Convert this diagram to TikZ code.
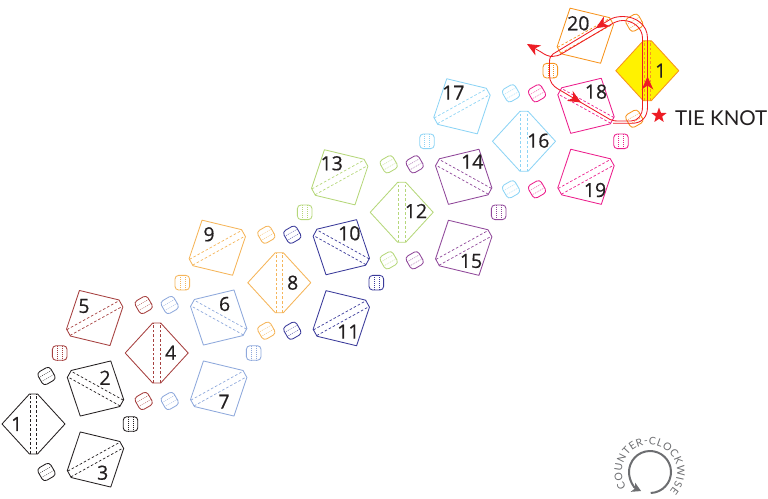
\documentclass[tikz,border=0pt]{standalone}
\usepackage{fontspec}
\setmainfont{Lato}
\newfontfamily\numfont[FakeBold=0.5]{Open Sans}
\usetikzlibrary{arrows.meta}
\usetikzlibrary{decorations.markings, decorations.text, shapes.geometric}

\definecolor{sheetblack}{HTML}{231F20}
\definecolor{sheetred}{HTML}{A6403F}
\definecolor{sheetblue}{HTML}{8FA9DC}
\definecolor{sheetorange}{HTML}{F5B55A}
\definecolor{sheetnavy}{HTML}{3A3A9A}
\definecolor{sheetgreen}{HTML}{B5D77A}
\definecolor{sheetpurple}{HTML}{90489A}
\definecolor{sheetsky}{HTML}{8DD4F5}
\definecolor{sheetpink}{HTML}{EC1E8C}
\definecolor{sheetamber}{HTML}{F7941E}
\definecolor{tieyellow}{HTML}{FFF200}
\definecolor{tiered}{HTML}{ED1C24}
\definecolor{wisegray}{HTML}{6D6E71}

\tikzset{
    tileedge/.style={line width=0.85pt, line join=round},
    tilefold/.style={line width=0.7pt, dash pattern=on 2.6pt off 2pt},
    claspedge/.style={line width=0.85pt, rounded corners=3.6pt},
    claspfold/.style={line width=0.4pt, dash pattern=on 1pt off 1pt},
    tilenum/.style={font=\numfont\fontsize{19.5}{19.5}\selectfont, text=sheetblack, inner sep=0pt},
    tieline/.style={draw=tiered, line width=0.85pt, line join=round},
    tiehead/.tip={Stealth[length=13pt, width=11.5pt, inset=4pt]},
}

% sheet: [fill], name, centre, rotation, colour, label position, label
\newcommand{\foldtile}[7][]{
    \begin{scope}[shift={#3}, rotate=#4]
        \draw[tileedge, draw=#5, #1] (-4,30) -- (4,30) -- (31.5,0) -- (4,-30) -- (-4,-30) -- (-31.5,0) -- cycle;
        \draw[tilefold, draw=#5] (-3.3,30) -- (-3.3,-30);
        \draw[tilefold, draw=#5] (3.3,30) -- (3.3,-30);
    \end{scope}
    \node[tilenum] (#2) at #6 {#7};
}

% one small square: centre, rotation, colour
\newcommand{\clasptile}[3]{
    \begin{scope}[shift={#1}, rotate=#2]
        \draw[claspedge, draw=#3] (-7.3,-7.3) rectangle (7.3,7.3);
        \draw[claspfold, draw=#3] (-2.4,-7.3) -- (-2.4,7.3);
        \draw[claspfold, draw=#3] (2.4,-7.3) -- (2.4,7.3);
    \end{scope}
}

% three small squares on one side of a diamond: centre, side, colour
\newcommand{\claspset}[3]{
    \begin{scope}[shift={#1}]
        \clasptile{(#2*13,-48)}{-60}{#3}
        \clasptile{(#2*13,48)}{-60}{#3}
        \clasptile{(#2*97,0)}{0}{#3}
    \end{scope}
}

\begin{document}
\begin{tikzpicture}[x=1pt, y=-1pt]
    \useasboundingbox (0,0) rectangle (768,498);

    \foldtile{numA}{(33.5,424)}{0}{sheetblack}{(16.7,424)}{1}
    \foldtile{numB}{(95.5,388.5)}{61}{sheetblack}{(105,377.7)}{2}
    \foldtile{numC}{(95.5,459.5)}{-61}{sheetblack}{(102.7,472.7)}{3}
    \claspset{(33.5,424)}{1}{sheetblack}

    \foldtile{numD}{(156.7,353)}{0}{sheetred}{(170.7,352.7)}{4}
    \foldtile{numE}{(94.7,318)}{-61}{sheetred}{(84,306)}{5}
    \claspset{(156.7,353)}{-1}{sheetred}

    \foldtile{numF}{(218.7,317.5)}{61}{sheetblue}{(224.6,304)}{6}
    \foldtile{numG}{(218.7,388.5)}{-61}{sheetblue}{(224,401.7)}{7}
    \claspset{(156.7,353)}{1}{sheetblue}

    \foldtile{numH}{(279.3,282.7)}{0}{sheetorange}{(292.7,282.7)}{8}
    \foldtile{numI}{(217.3,247.7)}{-61}{sheetorange}{(209,234.3)}{9}
    \claspset{(279.3,282.7)}{-1}{sheetorange}

    \foldtile{numJ}{(341.3,247.2)}{61}{sheetnavy}{(349.3,233.3)}{10}
    \foldtile{numK}{(341.3,318.2)}{-61}{sheetnavy}{(348.3,331.7)}{11}
    \claspset{(279.3,282.7)}{1}{sheetnavy}

    \foldtile{numL}{(401.7,212.3)}{0}{sheetgreen}{(416,211)}{12}
    \foldtile{numM}{(339.7,177.3)}{-61}{sheetgreen}{(331.7,163.3)}{13}
    \claspset{(401.7,212.3)}{-1}{sheetgreen}

    \foldtile{numN}{(463.7,176.8)}{61}{sheetpurple}{(472.3,161.7)}{14}
    \foldtile{numO}{(463.7,247.8)}{-61}{sheetpurple}{(471,261)}{15}
    \claspset{(401.7,212.3)}{1}{sheetpurple}

    \foldtile{numP}{(524,141.3)}{0}{sheetsky}{(538.3,140.7)}{16}
    \foldtile{numQ}{(462,106.3)}{-61}{sheetsky}{(453.3,92.7)}{17}
    \claspset{(524,141.3)}{-1}{sheetsky}

    \foldtile{numR}{(586,105.8)}{61}{sheetpink}{(596,91.7)}{18}
    \foldtile{numS}{(586,176.8)}{-61}{sheetpink}{(595,190)}{19}
    \claspset{(524,141.3)}{1}{sheetpink}

    \foldtile[fill=tieyellow]{numU}{(647.3,70.7)}{0}{sheetamber}{(660.7,70.7)}{1}
    \foldtile{numT}{(585.3,35.7)}{-61}{sheetamber}{(578.3,23.3)}{20}
    \claspset{(647.3,70.7)}{-1}{sheetamber}

    % the tie path
    \coordinate (tiestart) at (613,123.3);
    \coordinate (tieend) at (527,44);
    \draw[tieline, -{tiehead}, postaction={decorate},
        decoration={markings,
            mark=at position 75pt with {\arrow[tiered]{tiehead}},
            mark=at position 180pt with {\arrow[tiered]{tiehead}},
            mark=at position 296pt with {\arrow[tiered]{tiehead}}}]
        (tiestart) -- (631.7,123.3) .. controls (642,123.3) and (647.5,117) .. (647.5,107)
        -- (647.5,38) .. controls (647.5,25) and (636,16.5) .. (623,16.5)
        .. controls (617,16.5) and (613,17.7) .. (610,19.5)
        -- (553,54) .. controls (550.5,56) and (549.5,58) .. (549.5,62)
        -- (549.5,75) .. controls (549.5,82) and (553,86) .. (558,89)
        -- (610,119.5) .. controls (613,121) and (616,121) .. (620,121)
        -- (631,121) .. controls (638,121) and (642.5,115) .. (642.5,107)
        -- (642.5,38) .. controls (642.5,28) and (633,20.5) .. (623,20.5)
        .. controls (618,20.5) and (614,22.5) .. (610,25)
        -- (563,53) .. controls (556,57.5) and (549,58) .. (541,52)
        -- (tieend);

    \node[star, star points=5, star point ratio=2.4, fill=tiered, inner sep=0pt, minimum size=16pt] (knotstar) at (659,115.5) {};
    \node[font=\fontsize{20.5}{20.5}\selectfont, text=sheetblack, inner sep=0pt, anchor=west] (knotname) at (675,118) {TIE KNOT};

    % turning sense
    \coordinate (wisecentre) at (650,472);
    \coordinate (wiseword) at (649.5,472);
    \draw[draw=wisegray, line width=2pt, -{Stealth[length=9pt, width=10pt, inset=2.5pt]}]
        (wisecentre) ++(-88:21pt) arc[start angle=-88, end angle=245, radius=21pt];
    \path[decorate, decoration={text along path, text align=fit to path,
            text={|\fontsize{10.5}{10.5}\selectfont\color{wisegray}|COUNTER-CLOCKWISE}}]
        (wiseword) ++(213:27.5pt) arc[start angle=213, end angle=-43, radius=27.5pt];
\end{tikzpicture}
\end{document}
